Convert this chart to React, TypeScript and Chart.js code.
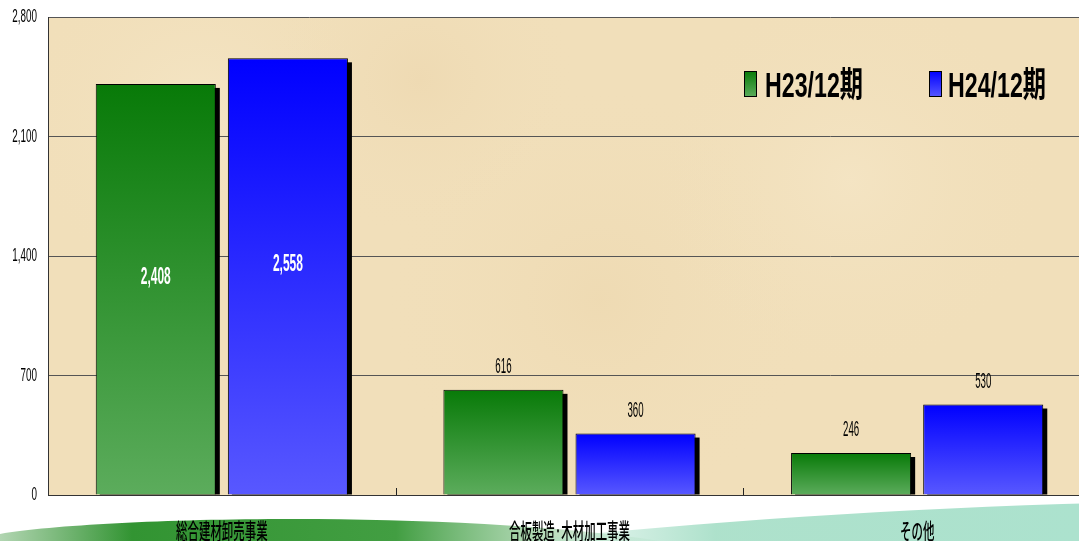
import React, { useEffect, useRef } from "react";
import { Chart, registerables } from "chart.js";

Chart.register(...registerables);

const categories = ["総合建材卸売事業", "合板製造·木材加工事業", "その他"];
const seriesNames = ["H23/12期", "H24/12期"];
const h23Values = [2408, 616, 246];
const h24Values = [2558, 360, 530];
const yTickValues = [0, 700, 1400, 2100, 2800];

const GREEN_TOP = "rgb(8,122,8)";
const GREEN_BOTTOM = "rgb(92,172,92)";
const BLUE_TOP = "rgb(0,0,255)";
const BLUE_BOTTOM = "rgb(88,88,255)";

function drawText(
  ctx: CanvasRenderingContext2D,
  text: string,
  x: number,
  y: number,
  font: string,
  color: string,
  sx: number,
  align: CanvasTextAlign = "center"
) {
  ctx.save();
  ctx.font = font;
  ctx.fillStyle = color;
  ctx.textBaseline = "middle";
  ctx.textAlign = align;
  ctx.translate(x, y);
  ctx.scale(sx, 1);
  ctx.fillText(text, 0, 0);
  ctx.restore();
}

function barGradient(top: string, bottom: string) {
  return (c: any) => {
    const chart = c.chart;
    const { chartArea, scales } = chart;
    if (!chartArea || !scales || !scales.y || c.type !== "data") return top;
    const yTop = scales.y.getPixelForValue(c.raw);
    const yBase = scales.y.getPixelForValue(0);
    if (!isFinite(yTop) || !isFinite(yBase) || yTop === yBase) return top;
    const g = chart.ctx.createLinearGradient(0, yTop, 0, yBase);
    g.addColorStop(0, top);
    g.addColorStop(1, bottom);
    return g;
  };
}

const decorPlugin = {
  id: "decor",
  beforeDraw(chart: any) {
    const { ctx, chartArea } = chart;
    const W = chart.width;
    const H = chart.height;
    ctx.save();
    ctx.fillStyle = "#ffffff";
    ctx.fillRect(0, 0, W, H);

    // bottom swoosh decorations
    const gg = ctx.createLinearGradient(0, 0, 660, 0);
    gg.addColorStop(0, "rgba(60,150,60,0.4)");
    gg.addColorStop(0.2, "rgba(50,148,50,1)");
    gg.addColorStop(0.6, "rgba(66,158,66,1)");
    gg.addColorStop(1, "rgba(140,200,150,0.1)");
    ctx.fillStyle = gg;
    ctx.beginPath();
    ctx.moveTo(0, H);
    ctx.lineTo(0, 534);
    ctx.bezierCurveTo(100, 517, 450, 509, 660, H);
    ctx.closePath();
    ctx.fill();

    const tg = ctx.createLinearGradient(520, 0, 1079, 0);
    tg.addColorStop(0, "rgba(165,222,198,0)");
    tg.addColorStop(0.35, "rgba(165,222,198,0.9)");
    tg.addColorStop(1, "rgba(172,226,206,1)");
    ctx.fillStyle = tg;
    ctx.beginPath();
    ctx.moveTo(520, H);
    ctx.bezierCurveTo(700, 522, 900, 508, 1100, 503);
    ctx.lineTo(1100, H);
    ctx.closePath();
    ctx.fill();

    // plot area parchment
    const { left, top, right, bottom } = chartArea;
    ctx.fillStyle = "#f1dfba";
    ctx.fillRect(left, top, right - left, bottom - top);
    const spots = [
      [200, 120, 180, "rgba(247,234,205,0.6)"],
      [600, 300, 220, "rgba(236,214,172,0.5)"],
      [850, 180, 200, "rgba(246,232,202,0.55)"],
      [420, 80, 160, "rgba(235,212,170,0.45)"],
    ];
    ctx.beginPath();
    ctx.rect(left, top, right - left, bottom - top);
    ctx.clip();
    for (const [sx, sy, r, col] of spots as any) {
      const rg = ctx.createRadialGradient(sx, sy, 0, sx, sy, r);
      rg.addColorStop(0, col);
      rg.addColorStop(1, "rgba(241,223,186,0)");
      ctx.fillStyle = rg;
      ctx.fillRect(left, top, right - left, bottom - top);
    }
    ctx.restore();
  },
  beforeDatasetsDraw(chart: any) {
    const { ctx } = chart;
    ctx.save();
    ctx.fillStyle = "#000";
    chart.data.datasets.forEach((_: any, di: number) => {
      const meta = chart.getDatasetMeta(di);
      meta.data.forEach((bar: any) => {
        const w = bar.width;
        const x0 = bar.x - w / 2 + 4;
        const y0 = bar.y + 4;
        ctx.fillRect(x0, y0, w, bar.base - y0);
      });
    });
    ctx.restore();
  },
  afterDatasetsDraw(chart: any) {
    const { ctx } = chart;
    chart.data.datasets.forEach((ds: any, di: number) => {
      const meta = chart.getDatasetMeta(di);
      meta.data.forEach((bar: any, i: number) => {
        const v = ds.data[i] as number;
        const txt = v.toLocaleString("en-US");
        if (v > 1400) {
          drawText(ctx, txt, bar.x, (bar.y + bar.base) / 2 - 12, "bold 24px 'Liberation Sans'", "#ffffff", 0.5);
        } else {
          drawText(ctx, txt, bar.x, bar.y - 23, "22px 'Liberation Sans'", "#000000", 0.44);
        }
      });
    });
  },
  afterDraw(chart: any) {
    const { ctx, chartArea, scales } = chart;
    const xs = scales.x;
    const ys = scales.y;
    // y tick labels
    yTickValues.forEach((v) => {
      drawText(ctx, v.toLocaleString("en-US"), 37, ys.getPixelForValue(v), "19px 'Liberation Sans'", "#000", 0.52, "right");
    });
    // category boundary ticks
    ctx.save();
    ctx.strokeStyle = "#222";
    ctx.lineWidth = 1;
    for (let i = 1; i < categories.length; i++) {
      const bx = Math.round((xs.getPixelForValue(i - 1) + xs.getPixelForValue(i)) / 2) + 0.5;
      ctx.beginPath();
      ctx.moveTo(bx, chartArea.bottom);
      ctx.lineTo(bx, chartArea.bottom - 7);
      ctx.stroke();
    }
    ctx.restore();
    // category labels
    categories.forEach((c, i) => {
      drawText(ctx, c, xs.getPixelForValue(i), 531, "500 22px 'Noto Sans CJK JP'", "#000", 0.52);
    });
    // legend
    const items = [
      { name: seriesNames[0], bx: 744, tx: 765, top: GREEN_TOP, bottom: GREEN_BOTTOM },
      { name: seriesNames[1], bx: 929, tx: 948, top: BLUE_TOP, bottom: BLUE_BOTTOM },
    ];
    items.forEach((it) => {
      ctx.save();
      const g = ctx.createLinearGradient(0, 71, 0, 97);
      g.addColorStop(0, it.top);
      g.addColorStop(1, it.bottom);
      ctx.fillStyle = g;
      ctx.fillRect(it.bx, 71, 13, 26);
      ctx.strokeStyle = "#000";
      ctx.lineWidth = 1;
      ctx.strokeRect(it.bx + 0.5, 71.5, 12, 25);
      ctx.font = "bold 35px 'Liberation Sans', 'Noto Sans CJK JP'";
      const w = ctx.measureText(it.name).width;
      ctx.restore();
      drawText(ctx, it.name, it.tx, 87, "bold 35px 'Liberation Sans', 'Noto Sans CJK JP'", "#000", 98 / w, "left");
    });
  },
};

export default function App() {
  const ref = useRef<HTMLCanvasElement | null>(null);
  useEffect(() => {
    if (!ref.current) return;
    const chart = new Chart(ref.current, {
      type: "bar",
      data: {
        labels: categories,
        datasets: [
          {
            label: seriesNames[0],
            data: h23Values,
            backgroundColor: barGradient(GREEN_TOP, GREEN_BOTTOM) as any,
            borderColor: "#000",
            borderWidth: 1,
            borderSkipped: "bottom",
            categoryPercentage: 0.76,
            barPercentage: 0.909,
          },
          {
            label: seriesNames[1],
            data: h24Values,
            backgroundColor: barGradient(BLUE_TOP, BLUE_BOTTOM) as any,
            borderColor: "#000",
            borderWidth: 1,
            borderSkipped: "bottom",
            categoryPercentage: 0.76,
            barPercentage: 0.909,
          },
        ],
      },
      options: {
        responsive: false,
        animation: false,
        devicePixelRatio: 1,
        layout: { padding: { top: 17, right: 9, left: 0, bottom: 0 } },
        plugins: { legend: { display: false }, tooltip: { enabled: false } },
        scales: {
          x: {
            grid: { display: false },
            border: { display: true, color: "#333", width: 1 },
            ticks: { display: false },
            afterFit: (s: any) => {
              s.height = 46;
            },
          },
          y: {
            min: 0,
            max: 2800,
            ticks: { display: false, stepSize: 700 },
            grid: { color: "#555", drawTicks: false, lineWidth: 1 },
            border: { display: true, color: "#333", width: 1 },
            afterFit: (s: any) => {
              s.width = 48;
            },
          },
        },
      },
      plugins: [decorPlugin],
    });
    return () => chart.destroy();
  }, []);
  return (
    <div
      style={{
        position: "fixed",
        left: 0,
        top: 0,
        width: 1079,
        height: 541,
        overflow: "hidden",
        background: "#fff",
      }}
    >
      <canvas ref={ref} width={1100} height={541} style={{ display: "block" }} />
    </div>
  );
}
